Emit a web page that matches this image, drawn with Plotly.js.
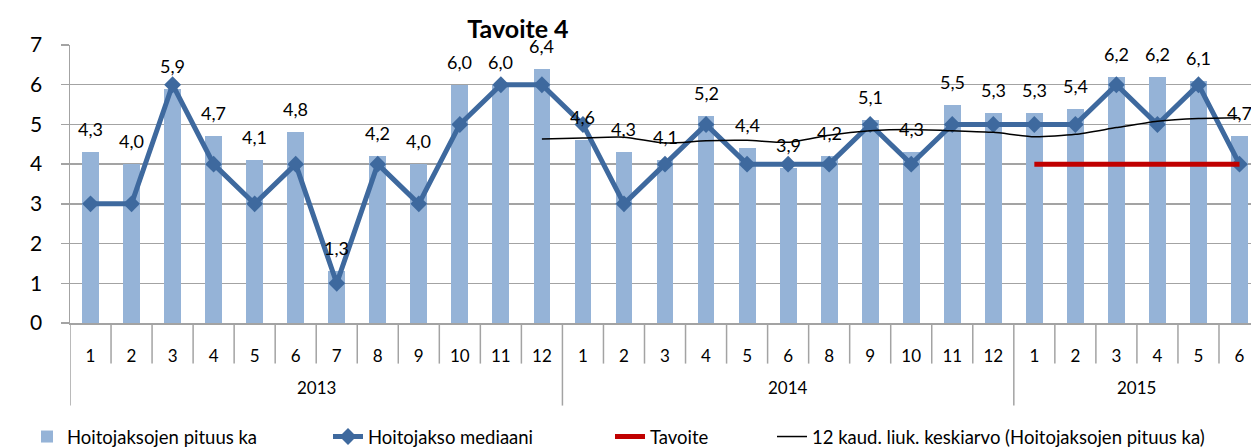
<!DOCTYPE html>
<html>
<head>
<meta charset="utf-8">
<script src="https://cdn.plot.ly/plotly-3.0.1.min.js"></script>
<style>
  html, body { margin: 0; padding: 0; background: #fff; }
  #chart { width: 1251px; height: 448px; }
</style>
</head>
<body>
<div id="chart"></div>
<script>
// ---- data ----
const years = ['2013', '2014', '2015'];
const months2013 = [1, 2, 3, 4, 5, 6, 7, 8, 9, 10, 11, 12];
const months2014 = [1, 2, 3, 4, 5, 6, 8, 9, 10, 11, 12];
const months2015 = [1, 2, 3, 4, 5, 6];

// Hoitojaksojen pituus ka (bars)
const pituusKa = [4.3, 4.0, 5.9, 4.7, 4.1, 4.8, 1.3, 4.2, 4.0, 6.0, 6.0, 6.4,
                  4.6, 4.3, 4.1, 5.2, 4.4, 3.9, 4.2, 5.1, 4.3, 5.5, 5.3,
                  5.3, 5.4, 6.2, 6.2, 6.1, 4.7];
// Hoitojakso mediaani
const mediaani = [3, 3, 6, 4, 3, 4, 1, 4, 3, 5, 6, 6,
                  5, 3, 4, 5, 4, 4, 4, 5, 4, 5, 5,
                  5, 5, 6, 5, 6, 4];
// Tavoite
const tavoite = [null, null, null, null, null, null, null, null, null, null, null, null,
                 null, null, null, null, null, null, null, null, null, null, null,
                 4, 4, 4, 4, 4, 4];
// 12 kaud. liuk. keskiarvo
const liukKa = [null, null, null, null, null, null, null, null, null, null, null, 4.63,
                4.66, 4.68, 4.53, 4.59, 4.60, 4.55, 4.73, 4.84, 4.87, 4.84, 4.80,
                4.69, 4.75, 4.92, 5.08, 5.15, 5.17];

// ---- build helpers ----
const monthGroups = [months2013, months2014, months2015];
const monthLabels = [].concat(...monthGroups).map(String);
const idx = monthLabels.map((_, i) => i);
const fmt = v => v.toFixed(1).replace('.', ',');

const FONT = 'Lato, "Open Sans", sans-serif';
const GRID = '#A3A3A3';
const W = 1251, H = 448, ML = 70, PW = W - ML;

const traces = [
  {
    type: 'bar', name: 'Hoitojaksojen pituus ka', legend: 'legend',
    x: idx, y: pituusKa, width: 0.41,
    marker: { color: '#95B3D7' }, hoverinfo: 'y'
  },
  {
    type: 'scatter', mode: 'lines+markers', name: 'Hoitojakso mediaani', legend: 'legend2',
    x: idx, y: mediaani,
    line: { color: '#3E699E', width: 5 },
    marker: { symbol: 'diamond', size: 13, color: '#3E699E' }
  },
  {
    type: 'scatter', mode: 'lines', name: 'Tavoite', legend: 'legend3',
    x: idx, y: tavoite,
    line: { color: '#C00000', width: 5 }
  },
  {
    type: 'scatter', mode: 'lines', name: '12 kaud. liuk. keskiarvo (Hoitojaksojen pituus ka)',
    legend: 'legend4',
    x: idx, y: liukKa, connectgaps: false,
    line: { color: '#000000', width: 1.5, shape: 'spline', smoothing: 0.6 }
  }
];

// value labels above bars
const annotations = pituusKa.map((v, i) => ({
  x: i, y: v, xref: 'x', yref: 'y', text: fmt(v), showarrow: false,
  yanchor: 'middle', yshift: 23, font: { family: FONT, size: 18, color: '#000' }
}));

// separators and year labels
const shapes = [];
const monthSepBottom = -0.146;
const yearSepBottom = -0.297;
let start = 0;
monthGroups.forEach((g, gi) => {
  for (let k = 0; k < g.length; k++) {
    const b = start + k - 0.5;
    shapes.push({
      type: 'line', xref: 'x', yref: 'paper', x0: b, x1: b,
      y0: k === 0 ? yearSepBottom : monthSepBottom, y1: 0,
      line: { color: GRID, width: 1.5 }
    });
  }
  annotations.push({
    x: start + (g.length - 1) / 2, y: -0.233, xref: 'x', yref: 'paper',
    text: years[gi], showarrow: false, yanchor: 'middle',
    font: { family: FONT, size: 17, color: '#000' }
  });
  start += g.length;
});

function leg(textStartPx) {
  return {
    orientation: 'h', x: (textStartPx - 40 - ML) / PW, xanchor: 'left',
    y: 1 - 437 / H, yref: 'container', yanchor: 'middle',
    font: { family: FONT, size: 18.5, color: '#000' },
    bgcolor: 'rgba(0,0,0,0)', borderwidth: 0
  };
}

const layout = {
  width: W, height: H,
  margin: { l: ML, r: 0, t: 45, b: 125, pad: 0, autoexpand: false },
  paper_bgcolor: '#fff', plot_bgcolor: '#fff',
  font: { family: FONT, color: '#000' },
  title: {
    text: '<b>Tavoite 4</b>', font: { family: FONT, size: 25, color: '#000' },
    x: 518 / W, xanchor: 'center', xref: 'container',
    y: 1 - 29 / H, yanchor: 'middle', yref: 'container'
  },
  showlegend: true,
  legend: leg(67),
  legend2: leg(368),
  legend3: leg(650),
  legend4: leg(812),
  bargap: 0,
  xaxis: {
    type: 'linear', range: [-0.5, 28.28], fixedrange: true, automargin: false,
    tickvals: idx, ticktext: monthLabels, ticks: '',
    tickfont: { family: FONT, size: 17, color: '#000' },
    ticklabelstandoff: 17,
    showgrid: false, zeroline: false,
    showline: true, linecolor: GRID, linewidth: 1.5
  },
  yaxis: {
    range: [0, 7], dtick: 1, tick0: 0, fixedrange: true, automargin: false,
    ticks: 'outside', ticklen: 8, tickcolor: GRID, tickwidth: 1.5,
    tickfont: { family: FONT, size: 21, color: '#000' },
    ticklabelstandoff: 14,
    showgrid: true, gridcolor: GRID, gridwidth: 1.5,
    zeroline: false, showline: true, linecolor: GRID, linewidth: 1.5
  },
  shapes: shapes,
  annotations: annotations
};

Plotly.newPlot('chart', traces, layout, { displayModeBar: false, staticPlot: true });
</script>
</body>
</html>
